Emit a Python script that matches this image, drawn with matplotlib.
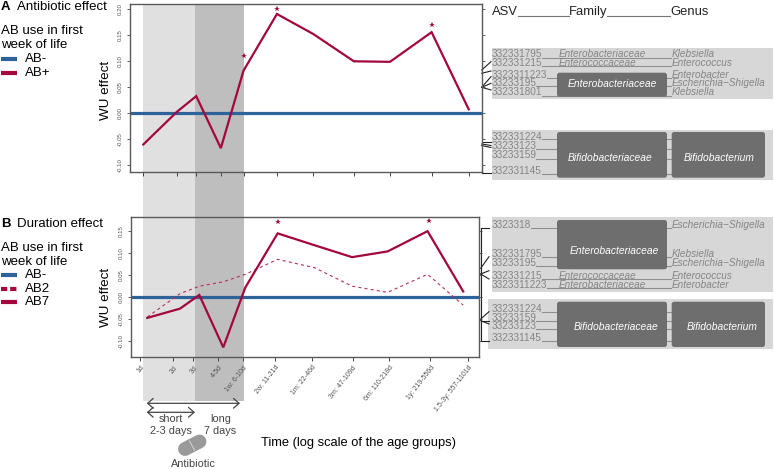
#!/usr/bin/env python3

import matplotlib
from matplotlib import pyplot as plt
from matplotlib.patches import FancyBboxPatch, Rectangle

matplotlib.use("Agg")

plt.rcParams["font.family"] = ["Liberation Sans", "DejaVu Sans"]

W, H = 774, 469

BLUE = "#2E6399"
RED = "#A3073C"
DARK = "#444444"
GREY_TEXT = "#858585"
BAND = "#d7d7d7"
BOX = "#6e6e6e"

age_labels = ["1d", "2d", "3d", "4-5d", "1w: 6-10d", "2w: 11-21d", "1m: 22-46d",
              "3m: 47-109d", "6m: 110-218d", "1y: 219-556d", "1.5-3y: 557-1101d"]

# panel A, age in days on log axis
ticks_a = [1, 2, 3, 5, 8, 16, 34, 79, 167, 396, 855]
ab_plus = [-0.060, 0.0025, 0.033, -0.067, 0.082, 0.191, 0.1525, 0.100, 0.099, 0.156, 0.0077]
stars_a_x = [8, 16, 396]
stars_a_y = [0.110, 0.200, 0.170]

# panel B, the points sit a bit off the ticks in the original
ticks_b = [1, 2, 3.03, 5.1, 8.5, 16.6, 36, 84, 179, 424, 927]
points_b = [1.164, 2.3, 3.44, 5.67, 8.97, 17.6, 38, 83, 174, 400, 841]
ab7 = [-0.048, -0.027, 0.004, -0.115, 0.021, 0.144, 0.117, 0.090, 0.103, 0.149, 0.012]
ab2 = [-0.046, 0.007, 0.024, 0.034, 0.051, 0.085, 0.066, 0.024, 0.010, 0.051, -0.019]
stars_b_x = [17.6, 410]
stars_b_y = [0.170, 0.172]

yticks_a = [-0.10, -0.05, 0.00, 0.05, 0.10, 0.15, 0.20]
yticks_b = [-0.10, -0.05, 0.00, 0.05, 0.10, 0.15]

# ASV table rows: id, family, genus (None = covered by a box), text y, line y
rows = [
    ("332331795", "Enterobacteriaceae", "Klebsiella", 53.7, 57.7),
    ("332331215", "Enterococcaceae", "Enterococcus", 63.3, 66),
    ("3323311223", None, "Enterobacter", 75.3, 77.7),
    ("33233195", None, "Escherichia\u2212Shigella", 83.3, 86.3),
    ("332331801", None, "Klebsiella", 92.3, 95.7),
    ("332331224", None, None, 136.7, 139.3),
    ("33233123", None, None, 146, 149.3),
    ("33233159", None, None, 155.3, 159),
    ("332331145", None, None, 171, 174),
    ("3323318", None, "Escherichia\u2212Shigella", 225, 227.7),
    ("332331795", None, "Klebsiella", 253.7, 257),
    ("33233195", None, "Escherichia\u2212Shigella", 262.7, 265.7),
    ("332331215", "Enterococcaceae", "Enterococcus", 275.7, 279.3),
    ("3323311223", "Enterobacteriaceae", "Enterobacter", 284.7, 288),
    ("332331224", None, None, 309.3, 312.3),
    ("33233159", None, None, 317.7, 321.3),
    ("33233123", None, None, 326.3, 329.3),
    ("332331145", None, None, 338.3, 341.3),
]

# x0, x1, y0, y1, label, label x, label y
boxes = [
    (557, 667, 72.7, 96.7, "Enterobacteriaceae", 612, 83.7),
    (557, 667, 132, 177.7, "Bifidobacteriaceae", 610, 158),
    (671.7, 765, 132, 177.7, "Bifidobacterium", 719, 158),
    (557, 667, 220, 269.3, "Enterobacteriaceae", 614.7, 250.7),
    (557, 667, 301.7, 347, "Bifidobacteriaceae", 616.3, 326.7),
    (671.7, 765, 301.7, 347, "Bifidobacterium", 721.7, 326.7),
]

bands = [(491.7, 773, 47.7, 99), (491.7, 773, 130, 180),
         (491.7, 773, 217, 292.3), (488.3, 773, 299.3, 349)]

# black fan lines from the right axis to the ASV ids
fans = [
    (481.7, 70, 491, 61.7), (481.7, 73.3, 491, 71), (481.7, 87.3, 491, 76.7),
    (481.7, 87.3, 491, 83.3), (481.7, 87.3, 491, 90), (481.7, 141.7, 491, 141.7),
    (481.7, 144, 491, 145.5), (481.7, 145.5, 491, 147.5), (481.7, 173.3, 491, 173.3),
    (480.7, 227.7, 489, 227.7), (480.7, 268.3, 489, 256.7), (480.7, 274, 489, 270.7),
    (480.7, 274, 489, 279), (480.7, 319, 489, 311.7), (480.7, 320.7, 489, 320.7),
    (480.7, 320.7, 489, 324), (480.7, 341, 489, 341),
    (480.7, 227.7, 480.7, 341), (481.7, 165, 481.7, 173.3),
]


def make_axes(left, right, top, bottom):
    ax = fig.add_axes([left / W, 1 - bottom / H, (right - left) / W, (bottom - top) / H])
    ax.patch.set_alpha(0)
    ax.set_zorder(2)
    ax.set_xscale("log")
    ax.minorticks_off()
    for s in ax.spines.values():
        s.set_color("#5a5a5a")
        s.set_linewidth(1.0)
    ax.tick_params(axis="x", which="minor", length=0)
    ax.tick_params(axis="y", labelrotation=90, labelsize=4.4, labelcolor="#555555",
                   length=2.5, width=0.6, color="#444444", pad=2.5, right=True)
    ax.tick_params(axis="x", length=3, width=0.7, color="#444444")
    return ax


fig = plt.figure(figsize=(W / 100, H / 100), dpi=100)

# overlay in pixel coordinates for all the annotation stuff
bg = fig.add_axes([0, 0, 1, 1])
bg.set_xlim(0, W)
bg.set_ylim(H, 0)
bg.axis("off")
bg.set_zorder(1)

bg.add_patch(Rectangle((143.3, 4), 52, 396.7, color="#e0e0e0", lw=0))
bg.add_patch(Rectangle((195.3, 4), 48.4, 396.7, color="#bebebe", lw=0))

# panel A
ax1 = make_axes(130, 481.7, 4, 171.7)
ax1.axhline(0, color=BLUE, lw=2.3, zorder=2)
ax1.plot(ticks_a, ab_plus, color=RED, lw=1.6, zorder=3, solid_joinstyle="miter")
ax1.plot(stars_a_x, stars_a_y, ls="none", marker="*", ms=4, color=RED, mew=0)
ax1.set_xlim(0.759, 1120)
ax1.set_ylim(-0.1123, 0.2102)
ax1.set_xticks(ticks_a)
ax1.set_xticklabels([])
ax1.set_yticks(yticks_a)
ax1.set_yticklabels(["%.2f" % v for v in yticks_a], va="center")
ax1.tick_params(axis="y", labelrotation=90)

# panel B
ax2 = make_axes(131, 479, 217.3, 357.3)
ax2.axhline(0, color=BLUE, lw=2.3, zorder=2)
ax2.plot(points_b, ab2, color="#B8305C", lw=0.8, ls=(0, (2.8, 2.8)), zorder=3)
ax2.plot(points_b, ab7, color=RED, lw=1.6, zorder=3, solid_joinstyle="miter")
ax2.plot(stars_b_x, stars_b_y, ls="none", marker="*", ms=4, color=RED, mew=0)
ax2.set_xlim(0.829, 1168)
ax2.set_ylim(-0.1375, 0.1805)
ax2.set_xticks(ticks_b)
ax2.set_xticklabels(age_labels, rotation=52, ha="right", rotation_mode="anchor",
                    fontsize=5, color="#555555")
ax2.tick_params(axis="x", pad=2)
ax2.set_yticks(yticks_b)
ax2.set_yticklabels(["%.2f" % v for v in yticks_b], va="center")
ax2.tick_params(axis="y", labelrotation=90)

# panel titles and legends
for letter, title, y0, legend in [
    ("A", "Antibiotic effect", 7, [("AB-", 59.3, BLUE, "-"), ("AB+", 73.3, RED, "-")]),
    ("B", "Duration effect", 223.7, [("AB-", 275.3, BLUE, "-"), ("AB2", 289, RED, (0, (1.5, 0.7))),
                                     ("AB7", 302.3, RED, "-")]),
]:
    bg.text(1, y0, letter, fontsize=9.5, fontweight="bold", va="center")
    bg.text(17, y0, title, fontsize=9.5, va="center")
    bg.text(1, y0 + 24, "AB use in first", fontsize=9.5, va="center")
    bg.text(1, y0 + 38.5, "week of life", fontsize=9.5, va="center")
    for name, ly, color, style in legend:
        bg.plot([1, 17], [ly, ly], color=color, lw=3, ls=style, solid_capstyle="butt",
                dash_capstyle="butt")
        bg.text(25, ly, name, fontsize=9.5, va="center")

bg.text(106, 90.7, "WU effect", fontsize=9.7, rotation=90, ha="center", va="center")
bg.text(106, 297.7, "WU effect", fontsize=9.7, rotation=90, ha="center", va="center")

# table headers
bg.text(492.3, 12.3, "ASV", fontsize=9.4, va="center", color="#222222")
bg.text(568.7, 12.3, "Family", fontsize=9.4, va="center", color="#222222")
bg.text(670, 12.3, "Genus", fontsize=9.4, va="center", color="#222222")
bg.plot([518, 568.7], [16.3, 16.3], color="#777777", lw=0.8)
bg.plot([607, 670], [16.3, 16.3], color="#777777", lw=0.8)

# ASV table
for x0, x1, y0, y1 in bands:
    bg.add_patch(Rectangle((x0, y0), x1 - x0, y1 - y0, color=BAND, lw=0, zorder=1))

for asv, family, genus, ty, ly in rows:
    bg.text(491.7, ty, asv, fontsize=7.2, color=GREY_TEXT, va="center", zorder=4)
    bg.plot([491.7 + 5.55 * len(asv), 671], [ly, ly], color="#8f8f8f", lw=0.8, zorder=2)
    if family:
        bg.text(559, ty, family, fontsize=7.2, style="italic", color=GREY_TEXT, va="center", zorder=4)
    if genus:
        bg.text(672, ty, genus, fontsize=7.2, style="italic", color=GREY_TEXT, va="center", zorder=4)

for x0, x1, y0, y1, label, tx, ty in boxes:
    bg.add_patch(FancyBboxPatch((x0 + 2, y0 + 2), x1 - x0 - 4, y1 - y0 - 4,
                                boxstyle="round,pad=2,rounding_size=2.5",
                                fc=BOX, ec="none", zorder=3))
    bg.text(tx, ty, label, fontsize=7.4, style="italic", color="white",
            ha="center", va="center", zorder=4)

for x0, y0, x1, y1 in fans:
    bg.plot([x0, x1], [y0, y1], color="#222222", lw=0.8, zorder=3)

# antibiotic duration arrows
for x1, ay in [(240, 403.3), (195, 412.3)]:
    bg.annotate("", xy=(x1, ay), xytext=(146.7, ay),
                arrowprops=dict(arrowstyle="<->,head_length=0.4,head_width=0.35",
                                color=DARK, lw=0.9, shrinkA=0, shrinkB=0))
bg.text(170.7, 418.7, "short", fontsize=7.8, color=DARK, ha="center", va="center")
bg.text(170.7, 431, "2-3 days", fontsize=7.8, color=DARK, ha="center", va="center")
bg.text(220.3, 418.7, "long", fontsize=7.8, color=DARK, ha="center", va="center")
bg.text(220.3, 431, "7 days", fontsize=7.8, color=DARK, ha="center", va="center")
bg.text(261, 442.7, "Time (log scale of the age groups)", fontsize=9.3, va="center")

# pill
bg.plot([185, 199.5], [449, 441.5], color="#9a9a9a", lw=10, solid_capstyle="round")
bg.plot([189.5, 194.5], [441, 450], color="#dddddd", lw=0.6)
bg.text(193, 463.7, "Antibiotic", fontsize=7.8, color=DARK, ha="center", va="center")

plt.savefig("out.png", dpi=100)
print("Saved out.png")
